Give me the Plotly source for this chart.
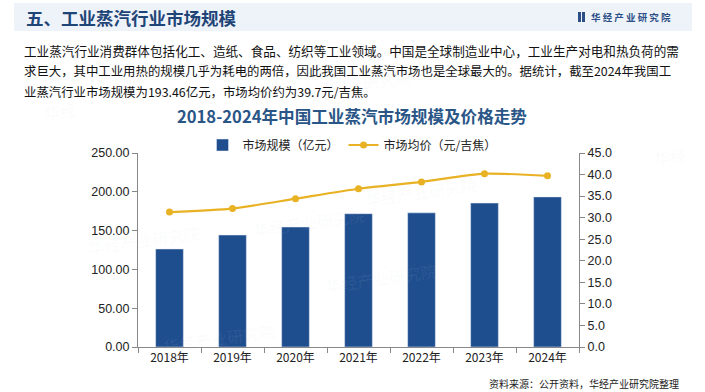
import plotly.graph_objects as go

years = ["2018年", "2019年", "2020年", "2021年", "2022年", "2023年", "2024年"]
market_size = [126.3, 144.3, 154.6, 171.8, 172.9, 185.5, 193.46]
avg_price = [31.3, 32.1, 34.4, 36.7, 38.3, 40.2, 39.7]
left_ticks = [0, 50, 100, 150, 200, 250]
right_ticks = [0, 5, 10, 15, 20, 25, 30, 35, 40, 45]

W, H = 705, 392
L, R, T, B = 138, 579, 153, 347

def px(x):
    return (x - L) / (R - L)

def py(y):
    return (B - y) / (B - T)

CJK = "Noto Sans CJK SC"
NUM = "Liberation Sans, Arial"

fig = go.Figure()
fig.add_trace(go.Bar(
    x=years, y=market_size, name="市场规模（亿元）",
    marker=dict(color="#1F4E8F"), width=0.44, yaxis="y",
))
fig.add_trace(go.Scatter(
    x=years, y=avg_price, name="市场均价（元/吉焦）", mode="lines+markers",
    line=dict(color="#E9B224", width=2.2, shape="spline", smoothing=0.6),
    marker=dict(color="#E9B224", size=7), yaxis="y2",
))

fig.update_layout(
    width=W, height=H,
    margin=dict(l=L, r=W - R, t=T, b=H - B, pad=0),
    paper_bgcolor="white", plot_bgcolor="rgba(0,0,0,0)",
    showlegend=True,
    legend=dict(orientation="h", x=px(352), y=py(145), xanchor="center", yanchor="middle",
                font=dict(family=CJK, size=12, color="#222"), bgcolor="rgba(0,0,0,0)",
                itemwidth=30, tracegroupgap=0),
    bargap=0.56,
    xaxis=dict(showgrid=False, showline=True, linecolor="#888", linewidth=1,
               ticks="outside", ticklen=5, tickcolor="#888", tickson="boundaries",
               tickfont=dict(family=CJK, size=12, color="#222"), fixedrange=True),
    yaxis=dict(range=[0, 250], tickvals=left_ticks, tickformat=".2f", showgrid=False,
               showline=True, linecolor="#888", linewidth=1, ticks="outside", ticklen=5,
               tickcolor="#888", tickfont=dict(family=NUM, size=12.5, color="#222"),
               zeroline=False),
    yaxis2=dict(range=[0, 45], tickvals=right_ticks, tickformat=".1f", overlaying="y",
                side="right", showgrid=False, showline=True, linecolor="#888", linewidth=1,
                ticks="outside", ticklen=5, tickcolor="#888",
                tickfont=dict(family=NUM, size=12.5, color="#222"), zeroline=False),
    font=dict(family=CJK),
)

shapes = [
    dict(type="rect", xref="paper", yref="paper", x0=px(14), x1=px(692), y0=py(31), y1=py(3),
         fillcolor="#EEF3FA", line=dict(width=0), layer="below"),
    dict(type="rect", xref="paper", yref="paper", x0=px(578), x1=px(581), y0=py(22), y1=py(12),
         fillcolor="#2B4F86", line=dict(width=0)),
    dict(type="rect", xref="paper", yref="paper", x0=px(582), x1=px(585), y0=py(22), y1=py(12),
         fillcolor="#2B4F86", line=dict(width=0)),
]
fig.update_layout(shapes=shapes)

ann = []
# faint watermarks
for (x, y, s) in [(355, 62, "华经产业研究院"), (250, 222, "华经产业研究院"), (85, 240, "华经产业研究院"),
                  (160, 360, "华经产业研究院"), (480, 170, "华经产业研究院"), (440, 300, "华经产业研究院"),
                  (690, 140, "华经"), (40, 95, "华经")]:
    ann.append(dict(text=s, x=px(x), y=py(y), xref="paper", yref="paper", showarrow=False,
                    textangle=-8, font=dict(family=CJK, size=16, color="rgba(200,208,222,0.09)")))

ann += [
    dict(text="<b>五、工业蒸汽行业市场规模</b>", x=px(24), y=py(17), xref="paper", yref="paper",
         xanchor="left", yanchor="middle", showarrow=False,
         font=dict(family=CJK, size=17.5, color="#1F4577")),
    dict(text="<b>华 经 产 业 研 究 院</b>", x=px(589), y=py(17), xref="paper", yref="paper",
         xanchor="left", yanchor="middle", showarrow=False,
         font=dict(family=CJK, size=9.5, color="#2B4F86")),
    dict(text="工业蒸汽行业消费群体包括化工、造纸、食品、纺织等工业领域。中国是全球制造业中心，工业生产对电和热负荷的需",
         x=px(22), y=py(50), xref="paper", yref="paper", xanchor="left", yanchor="middle",
         showarrow=False, font=dict(family=CJK, size=12.6, color="#111")),
    dict(text="求巨大，其中工业用热的规模几乎为耗电的两倍，因此我国工业蒸汽市场也是全球最大的。据统计，截至2024年我国工",
         x=px(22), y=py(71), xref="paper", yref="paper", xanchor="left", yanchor="middle",
         showarrow=False, font=dict(family=CJK, size=12.4, color="#111")),
    dict(text="业蒸汽行业市场规模为193.46亿元，市场均价约为39.7元/吉焦。",
         x=px(22), y=py(92), xref="paper", yref="paper", xanchor="left", yanchor="middle",
         showarrow=False, font=dict(family=CJK, size=12.4, color="#111")),
    dict(text="<b>2018-2024年中国工业蒸汽市场规模及价格走势</b>", x=px(352), y=py(116),
         xref="paper", yref="paper", xanchor="center", yanchor="middle", showarrow=False,
         font=dict(family=CJK, size=16.6, color="#2A5687")),
    dict(text="资料来源：公开资料，华经产业研究院整理", x=px(681), y=py(383), xref="paper", yref="paper",
         xanchor="right", yanchor="middle", showarrow=False,
         font=dict(family=CJK, size=10, color="#222")),
]
fig.update_layout(annotations=ann)

fig.write_html("out.html", config={"displayModeBar": False},
               post_script="document.body.style.margin='0';document.body.style.overflow='hidden';")
